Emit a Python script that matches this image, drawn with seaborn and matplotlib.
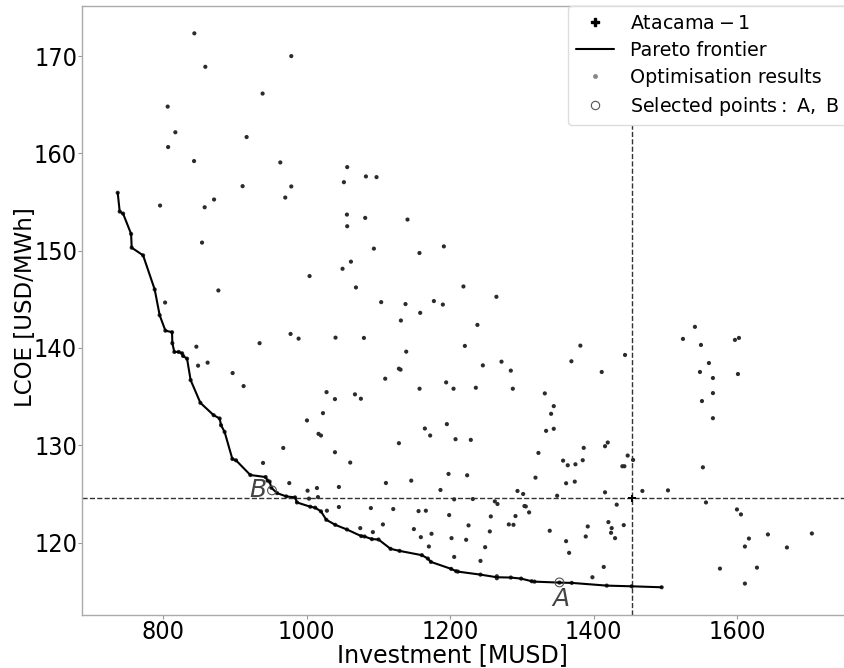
import matplotlib
matplotlib.use("Agg")
import matplotlib.pyplot as plt
import seaborn as sns
import pandas as pd
from matplotlib.lines import Line2D

# ---------------- data ----------------
pareto_x = [736.3, 739.1, 743.8, 755.0, 755.8, 771.7, 787.9, 794.8, 802.8, 812.1, 812.5, 815.3,
            821.3, 826.1, 827.5, 833.0, 838.0, 851.6, 870.1, 878.5, 880.4, 885.4, 896.2, 901.3,
            921.3, 942.6, 945.4, 948.2, 950.5, 958.5, 971.4, 983.6, 986.3, 1004.9, 1011.8, 1019.8,
            1027.2, 1039.7, 1056.0, 1076.0, 1080.6, 1090.8, 1100.1, 1116.9, 1129.4, 1160.5, 1168.9,
            1173.1, 1201.4, 1208.4, 1210.7, 1242.3, 1265.1, 1265.1, 1284.6, 1299.0, 1313.8, 1317.6,
            1352.4, 1369.6, 1418.4, 1453.2, 1495.0]
pareto_y = [155.95, 154.02, 153.81, 151.72, 150.31, 149.52, 146.01, 143.37, 141.78, 141.62, 140.49,
            139.59, 139.59, 139.45, 139.18, 138.90, 136.70, 134.36, 133.09, 132.75, 132.06, 131.37,
            128.59, 128.45, 126.94, 126.73, 126.36, 126.26, 125.64, 125.08, 124.74, 124.64, 124.12,
            123.68, 123.58, 123.20, 122.34, 121.82, 121.34, 120.66, 120.62, 120.35, 120.31, 119.35,
            119.14, 118.70, 118.35, 118.01, 117.29, 117.05, 117.01, 116.70, 116.53, 116.33, 116.40,
            116.29, 116.02, 115.98, 115.88, 115.85, 115.57, 115.50, 115.40]

# optimisation results, left part
opt_x_left = [843.2, 858.5, 938.4, 806.0, 816.7, 916.1, 806.6, 842.8, 910.5, 870.7, 795.4, 857.6,
              853.9, 876.7, 802.4, 846.0, 848.4, 861.7, 934.2, 977.4, 988.6, 896.6, 911.9, 1027.6,
              1022.6, 1000.3, 1016.4, 1019.8, 967.2, 939.0, 975.6, 1001.1, 1014.2, 1003.1, 1015.6,
              1028.1, 978.4, 963.1, 978.4, 970.0]
opt_y_left = [172.34, 168.90, 166.15, 164.81, 162.17, 161.68, 160.65, 159.21, 156.63, 155.26,
              154.64, 154.46, 150.83, 145.91, 144.67, 140.13, 138.18, 138.49, 140.49, 141.44,
              140.96, 137.42, 136.08, 135.46, 133.30, 132.55, 131.17, 131.00, 129.72, 128.18,
              126.11, 125.33, 125.60, 124.51, 124.67, 123.27, 170.0, 159.07, 156.6, 155.46]

# optimisation results, upper middle
opt_x_up = [1056.4, 1082.5, 1097.3, 1051.8, 1056.0, 1081.5, 1140.5, 1056.4, 1093.6, 1191.2,
            1157.2, 1061.6, 1049.9, 1003.9, 1068.6, 1218.5, 1264.5, 1103.8, 1137.7, 1177.3,
            1189.8, 1158.2, 1131.3, 1238.0, 1040.1, 1079.7, 1220.5, 1138.7, 1381.6]
opt_y_up = [158.59, 157.63, 157.56, 157.04, 153.71, 153.37, 153.20, 152.51, 150.21, 150.44,
            149.76, 148.87, 148.14, 147.39, 146.22, 146.32, 145.26, 144.71, 144.51, 144.82,
            144.46, 143.61, 142.82, 142.37, 141.06, 141.03, 140.21, 139.62, 140.24]

# optimisation results, lower middle
opt_x_mid = [1039.3, 1067.2, 1075.5, 1109.4, 1128.5, 1130.8, 1157.3, 1194.4, 1204.7, 1235.8,
             1245.6, 1271.6, 1284.6, 1287.4, 1332.0, 1344.5, 1340.8, 1333.8, 1344.5, 1369.1,
             1411.4, 1443.9, 1164.7, 1172.1, 1195.4, 1207.5, 1228.8, 1128.5, 1039.3, 1060.6,
             1323.1, 1386.3, 1416.0, 1419.8, 1357.5, 1364.0, 1374.7, 1384.9, 1447.6, 1455.1,
             1440.2, 1443.0, 1110.4, 1145.7, 1197.7, 1223.7, 1319.0, 1361.7, 1373.8, 1044.8,
             1186.5, 1293.9, 1301.8, 1349.2, 1416.0, 1468.1, 1205.6, 1231.6, 1262.3, 1266.0,
             1044.8, 1089.4, 1120.6, 1155.9, 1166.1, 1303.6, 1305.5, 1310.1, 1432.3, 1198.6,
             1256.7, 1291.1, 1281.8, 1288.3, 1225.6, 1106.2, 1074.6, 1092.2, 1149.4, 1174.0,
             1159.1, 1201.9, 1222.3, 1255.3, 1338.9, 1391.9, 1420.7, 1425.3, 1424.4, 1430.0,
             1442.1, 1361.7, 1389.1, 1170.3, 1248.8, 1365.9, 1205.6, 1242.3, 1414.2, 1398.4]
opt_y_mid = [134.74, 135.23, 134.78, 136.84, 137.87, 137.77, 135.81, 136.46, 135.81, 135.91,
             138.21, 138.59, 137.67, 135.81, 135.33, 134.02, 133.23, 131.48, 131.69, 138.63,
             137.53, 139.28, 131.72, 131.00, 132.17, 130.62, 130.55, 130.21, 129.28, 128.22,
             129.21, 129.73, 129.90, 130.28, 128.42, 127.94, 128.04, 128.46, 128.94, 128.49,
             127.84, 127.84, 126.12, 126.36, 127.05, 126.91, 126.67, 126.09, 126.26, 125.71,
             125.40, 125.30, 124.99, 124.81, 125.16, 125.30, 124.44, 124.47, 124.23, 123.96,
             123.65, 123.54, 123.44, 123.23, 123.27, 123.75, 123.71, 123.10, 123.89, 122.82,
             122.68, 122.72, 121.86, 121.82, 121.76, 121.86, 121.48, 121.07, 121.38, 120.90,
             120.55, 120.45, 120.28, 121.14, 121.21, 121.65, 122.10, 121.48, 121.00, 120.45,
             121.79, 120.14, 120.62, 119.59, 119.52, 118.94, 118.52, 118.11, 117.49, 116.43]

# optimisation results, right part
opt_x_right = [1524.7, 1541.4, 1549.8, 1548.4, 1560.9, 1566.5, 1566.5, 1551.2, 1566.5, 1552.5,
               1556.8, 1503.8, 1576.3, 1605.6, 1600.0, 1611.1, 1616.7, 1611.1, 1627.9, 1643.2,
               1669.7, 1704.5, 1597.2, 1602.8, 1601.4]
opt_y_right = [140.93, 142.17, 140.31, 137.53, 138.45, 136.91, 135.36, 134.54, 132.78, 127.73,
               124.12, 125.36, 117.32, 122.89, 123.40, 119.59, 120.41, 115.78, 117.42, 120.83,
               119.49, 120.93, 140.83, 141.03, 137.32]

sel_x = [1352.4, 951.5]
sel_y = [115.90, 125.36]
sel_labels = ["A", "B"]

atacama_x = [1453.6]
atacama_y = [124.55]

# ---------------- figure ----------------
sns.set_style("white")
plt.rcParams['font.family'] = ['DejaVu Sans']
plt.rcParams['text.color'] = 'black'
plt.rcParams['axes.labelcolor'] = 'black'
plt.rcParams['xtick.color'] = 'black'
plt.rcParams['ytick.color'] = 'black'

fig = plt.figure(figsize=(8.44, 6.68), dpi=100)
ax = fig.add_axes([82 / 844, 53 / 668, 765 / 844, 609 / 668])

all_x = opt_x_left + opt_x_up + opt_x_mid + opt_x_right + pareto_x
all_y = opt_y_left + opt_y_up + opt_y_mid + opt_y_right + pareto_y
opt_df = pd.DataFrame({"x": all_x, "y": all_y})
sns.scatterplot(data=opt_df, x="x", y="y", ax=ax, s=9, color="#2b2b2b",
                edgecolor="none", zorder=3, legend=False)

par_df = pd.DataFrame({"x": pareto_x, "y": pareto_y})
sns.lineplot(data=par_df, x="x", y="y", ax=ax, sort=False, color="black",
             lw=1.5, zorder=4, legend=False)

ax.axvline(atacama_x[0], color="#333333", ls="--", lw=1.0, zorder=2)
ax.axhline(atacama_y[0], color="#333333", ls="--", lw=1.0, zorder=2)
sns.scatterplot(x=atacama_x, y=atacama_y, ax=ax, marker="P", s=28, color="black",
                edgecolor="none", zorder=5, legend=False)

sns.scatterplot(x=sel_x, y=sel_y, ax=ax, marker="o", s=40, facecolor="none",
                edgecolor="#555555", linewidth=0.8, zorder=6, legend=False)
ax.annotate(sel_labels[0], (sel_x[0], sel_y[0]), xytext=(1, -3), textcoords="offset points",
            ha="center", va="top", fontsize=18, style="italic", color="#444444")
ax.annotate(sel_labels[1], (sel_x[1], sel_y[1]), xytext=(-4, 0), textcoords="offset points",
            ha="right", va="center", fontsize=18, style="italic", color="#444444")

ax.set_xlim(686.5, 1753.5)
ax.set_ylim(112.55, 175.15)
ax.set_xticks([800, 1000, 1200, 1400, 1600])
ax.set_yticks([120, 130, 140, 150, 160, 170])
ax.tick_params(axis="both", labelsize=18, length=3, width=0.8, color="#999999",
               labelcolor="black", bottom=True, left=True, pad=0.5)
for lab in ax.get_xticklabels() + ax.get_yticklabels():
    lab.set_fontstretch("condensed")
ax.set_xlabel("Investment [MUSD]", fontsize=17)
ax.xaxis.set_label_coords((452 - 82) / 765, -(643 - 615) / 609)
ax.set_ylabel("LCOE [USD/MWh]", fontsize=16.5)
ax.yaxis.set_label_coords(-(82 - 37) / 765, 0.505)
for sp in ax.spines.values():
    sp.set_color("#aaaaaa")
    sp.set_linewidth(1.0)

handles = [
    Line2D([], [], marker="P", color="black", ls="none", markersize=6),
    Line2D([], [], color="black", lw=1.5),
    Line2D([], [], marker="o", color="#888888", ls="none", markersize=2.5),
    Line2D([], [], marker="o", markerfacecolor="none", markeredgecolor="#555555",
           ls="none", markersize=6, markeredgewidth=0.8),
]
labels = [r"$\mathrm{Atacama-1}$", "Pareto frontier", "Optimisation results",
          r"$\mathrm{Selected\ points:\ A,\ B}$"]
ax.legend(handles, labels, loc="upper right", fontsize=13.7, borderaxespad=0.0,
          labelspacing=0.42, frameon=True, edgecolor="#dddddd", framealpha=1.0,
          handlelength=2.0, handletextpad=0.85)

fig.savefig("out.png", dpi=100)
